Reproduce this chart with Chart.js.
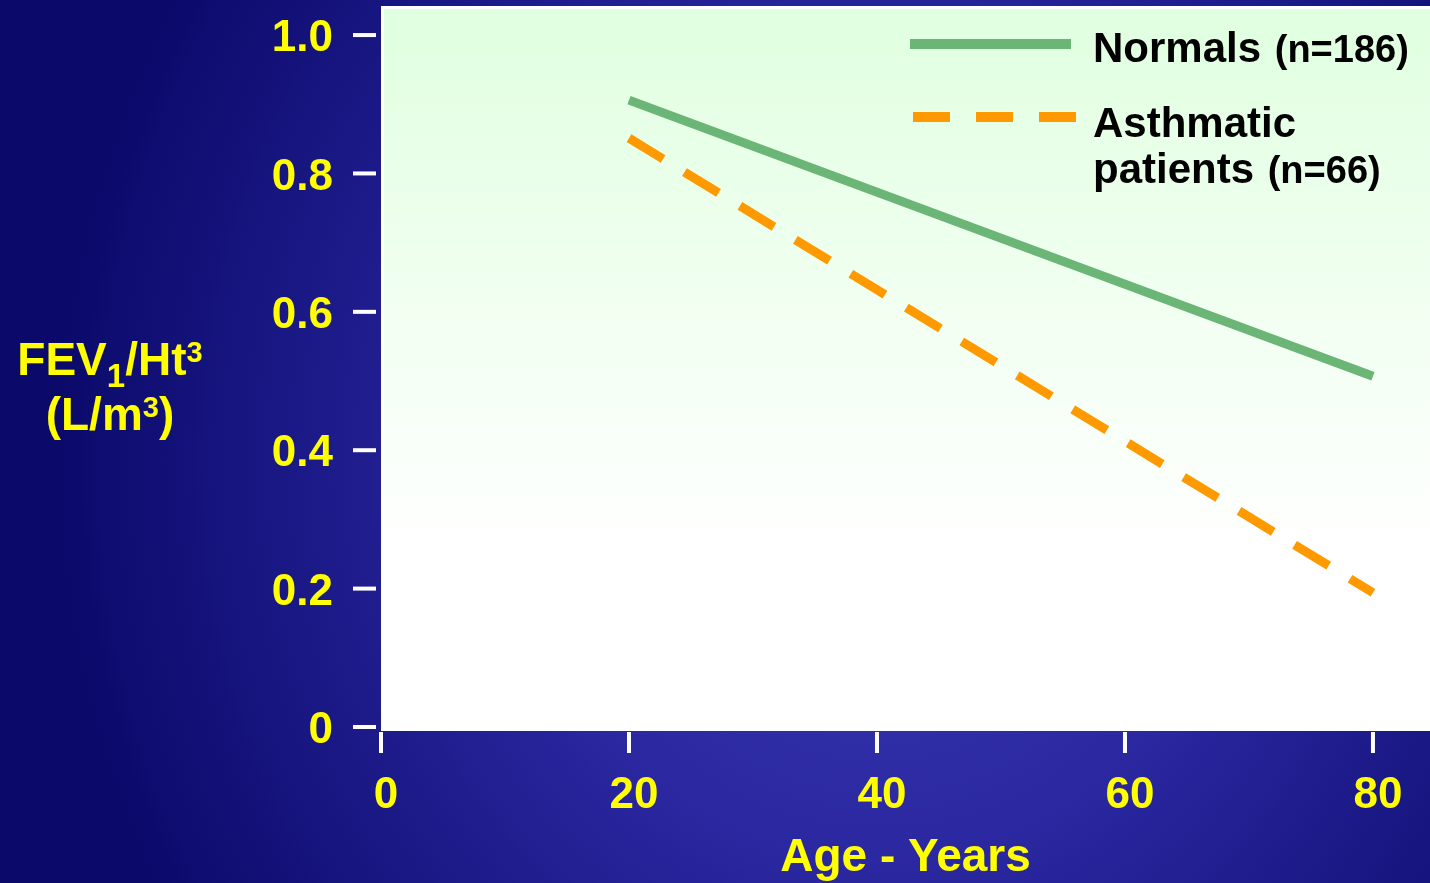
<!DOCTYPE html>
<html lang="en">
  <head>
    <meta charset="UTF-8" />
    <title>FEV1/Ht3 by Age</title>
    <style>
      html, body {
        margin: 0;
        padding: 0;
        width: 1430px;
        height: 883px;
        overflow: hidden;
      }
      body {
        background: radial-gradient(ellipse 820px 900px at 880px 460px, #3c3cb2 0%, #2a27a0 45%, #0b0a6b 100%);
      }
      #wrap {
        position: relative;
        width: 1430px;
        height: 883px;
      }
      #ytitle {
        position: absolute;
        left: 0;
        top: 332px;
        width: 220px;
        text-align: center;
        color: #ffff00;
        font: bold 46px "Liberation Sans", Arial, sans-serif;
        line-height: 55px;
      }
      #ytitle sub, #ytitle sup {
        line-height: 0;
      }
      #ytitle sub {
        font-size: 33px;
        vertical-align: -12px;
      }
      #ytitle sup {
        font-size: 29px;
        vertical-align: 13px;
      }
    </style>
  </head>
  <body>
    <div id="wrap">
      <canvas id="chart" width="1430" height="883"></canvas>
      <div id="ytitle">FEV<sub>1</sub>/Ht<sup>3</sup><br />(L/m<sup>3</sup>)</div>
    </div>

    <script src="https://cdn.jsdelivr.net/npm/chart.js"></script>
    <script>
      const ages = [20, 80];
      const normals = [0.906, 0.507];
      const asthmatics = [0.851, 0.194];
      const xTicks = [0, 20, 40, 60, 80];
      const yTicks = [0, 0.2, 0.4, 0.6, 0.8, 1.0];
      const yTickLabels = ["0", "0.2", "0.4", "0.6", "0.8", "1.0"];
      const seriesNames = ["Normals", "Asthmatic patients"];
      const seriesCounts = ["(n=186)", "(n=66)"];

      const YELLOW = "#ffff00";
      const GREEN = "#6bb576";
      const ORANGE = "#ff9900";
      const FONT = "'Liberation Sans', Arial, sans-serif";

      Chart.defaults.font.family = FONT;

      // plot background, tick marks and the legend
      const decor = {
        id: "decor",
        beforeDatasetsDraw(chart) {
          const { ctx, chartArea: a } = chart;
          ctx.save();
          ctx.fillStyle = "#ffffff";
          ctx.fillRect(a.left, a.top, a.right - a.left, a.bottom - a.top);
          const g = ctx.createLinearGradient(0, a.top, 0, a.bottom);
          g.addColorStop(0, "#e0ffe0");
          g.addColorStop(0.75, "#ffffff");
          ctx.fillStyle = g;
          ctx.fillRect(a.left + 3, a.top + 3, a.right - a.left - 3, a.bottom - a.top - 3);
          ctx.restore();
        },
        afterDraw(chart) {
          const { ctx, chartArea: a, scales } = chart;
          ctx.save();
          ctx.fillStyle = "#ffffff";
          yTicks.forEach((v) => {
            const py = scales.y.getPixelForValue(v);
            ctx.fillRect(a.left - 28, py - 2, 23, 4);
          });
          xTicks.forEach((v) => {
            const px = scales.x.getPixelForValue(v);
            ctx.fillRect(px - 2, a.bottom + 1, 4, 21);
          });

          // legend
          const sets = chart.data.datasets;
          ctx.lineWidth = 10;
          ctx.lineCap = "butt";
          ctx.strokeStyle = sets[0].borderColor;
          ctx.beginPath();
          ctx.moveTo(910, 44);
          ctx.lineTo(1071, 44);
          ctx.stroke();
          ctx.strokeStyle = sets[1].borderColor;
          ctx.setLineDash([37, 26]);
          ctx.beginPath();
          ctx.moveTo(913, 117);
          ctx.lineTo(1076, 117);
          ctx.stroke();
          ctx.setLineDash([]);

          ctx.fillStyle = "#000000";
          ctx.textBaseline = "alphabetic";
          ctx.textAlign = "left";
          const big = "bold 42px " + FONT;
          const small = "bold 38px " + FONT;

          ctx.font = big;
          ctx.fillText(seriesNames[0], 1093, 62);
          let w = ctx.measureText(seriesNames[0] + " ").width;
          ctx.font = small;
          ctx.fillText(seriesCounts[0], 1093 + w + 2, 62);

          const words = seriesNames[1].split(" ");
          ctx.font = big;
          ctx.fillText(words[0], 1093, 137);
          const rest = words.slice(1).join(" ");
          ctx.fillText(rest, 1093, 183);
          w = ctx.measureText(rest + " ").width;
          ctx.font = small;
          ctx.fillText(seriesCounts[1], 1093 + w + 2, 183);
          ctx.restore();
        },
      };

      new Chart(document.getElementById("chart"), {
        type: "line",
        data: {
          datasets: [
            {
              label: seriesNames[0],
              data: ages.map((a, i) => ({ x: a, y: normals[i] })),
              borderColor: GREEN,
              borderWidth: 9,
              borderCapStyle: "butt",
              pointRadius: 0,
            },
            {
              label: seriesNames[1],
              data: ages.map((a, i) => ({ x: a, y: asthmatics[i] })),
              borderColor: ORANGE,
              borderWidth: 9,
              borderCapStyle: "butt",
              borderDash: [40, 25],
              pointRadius: 0,
            },
          ],
        },
        options: {
          responsive: false,
          animation: false,
          layout: { padding: { top: 6, right: 0, bottom: 0, left: 0 } },
          plugins: {
            legend: { display: false },
            tooltip: { enabled: false },
          },
          scales: {
            x: {
              type: "linear",
              min: 0,
              max: 84.6,
              grid: { display: false },
              border: { display: false },
              afterBuildTicks: (s) => {
                s.ticks = xTicks.map((v) => ({ value: v }));
              },
              afterFit: (s) => {
                s.height = 152;
                s.paddingLeft = 0;
                s.paddingRight = 0;
              },
              ticks: {
                color: YELLOW,
                font: { size: 44, weight: "bold" },
                padding: 30,
                labelOffset: 5,
                maxRotation: 0,
                autoSkip: false,
              },
              title: {
                display: true,
                text: "Age - Years",
                color: YELLOW,
                font: { size: 46, weight: "bold" },
                padding: { top: 0, bottom: -3 },
              },
            },
            y: {
              type: "linear",
              min: -0.0058,
              max: 1.042,
              grid: { display: false },
              border: { display: false },
              afterBuildTicks: (s) => {
                s.ticks = yTicks.map((v) => ({ value: v }));
              },
              afterFit: (s) => {
                s.width = 381;
                s.paddingTop = 0;
                s.paddingBottom = 0;
              },
              ticks: {
                color: YELLOW,
                font: { size: 44, weight: "bold" },
                padding: 40,
                labelOffset: 4,
                autoSkip: false,
                callback: (v, i) => yTickLabels[i],
              },
            },
          },
        },
        plugins: [decor],
      });
    </script>
  </body>
</html>
